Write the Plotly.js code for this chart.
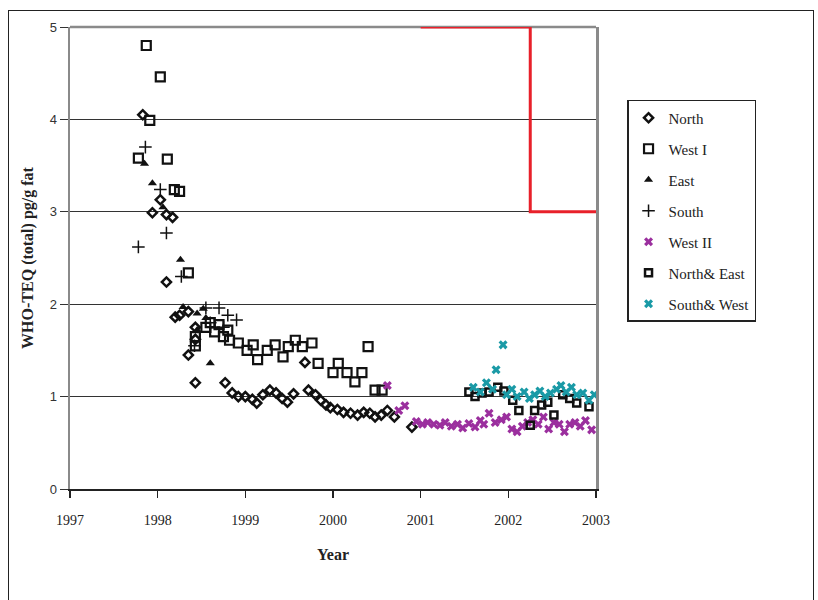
<!DOCTYPE html>
<html><head><meta charset="utf-8">
<script src="https://cdn.plot.ly/plotly-3.0.1.min.js"></script>
<style>
body{margin:0;background:#fff;}
#wrap{position:relative;width:818px;height:600px;}
#chart{width:818px;height:600px;}
#frame{position:absolute;left:8px;top:10px;width:804px;height:600px;border:1px solid #222;pointer-events:none;}
</style></head>
<body><div id="wrap"><div id="chart"></div><div id="frame"></div></div>
<script>
// Data
const northX = [1997.83,1998.03,1997.94,1998.10,1998.17,1998.10,1998.20,1998.25,1998.35,1998.35,1998.43,1998.77,1998.85,1998.92,1999.00,1999.08,1999.13,1999.20,1999.28,1999.35,1999.42,1999.48,1999.55,1999.68,1999.72,1999.80,1999.86,1999.92,1999.97,2000.05,2000.12,2000.20,2000.28,2000.35,2000.42,2000.48,2000.55,2000.62,2000.70,2000.90,1998.43,1998.43];
const northY = [4.05,3.13,2.99,2.97,2.94,2.24,1.86,1.88,1.92,1.45,1.15,1.15,1.04,1.00,1.00,0.97,0.93,1.02,1.07,1.04,0.98,0.94,1.03,1.37,1.07,1.02,0.96,0.91,0.88,0.86,0.83,0.82,0.80,0.83,0.82,0.78,0.80,0.85,0.78,0.67,1.62,1.75];

const westIX = [1997.87,1998.03,1997.91,1997.78,1998.11,1998.19,1998.25,1998.35,1998.43,1998.43,1998.55,1998.60,1998.65,1998.70,1998.75,1998.80,1998.82,1998.92,1999.02,1999.09,1999.14,1999.25,1999.34,1999.43,1999.49,1999.57,1999.65,1999.76,1999.83,2000.00,2000.06,2000.16,2000.25,2000.33,2000.40,2000.48,2000.56];
const westIY = [4.80,4.46,3.99,3.58,3.57,3.24,3.22,2.34,1.55,1.65,1.75,1.80,1.70,1.78,1.65,1.72,1.61,1.58,1.50,1.56,1.40,1.50,1.56,1.43,1.54,1.61,1.54,1.58,1.36,1.26,1.36,1.26,1.16,1.26,1.54,1.07,1.07];

const eastX = [1997.94,1997.85,1998.06,1998.26,1998.29,1998.45,1998.52,1998.60,1998.45,1998.55];
const eastY = [3.31,3.52,3.05,2.48,1.97,1.90,1.95,1.36,1.72,1.85];

const southX = [1997.78,1997.86,1998.03,1998.10,1998.27,1998.42,1998.55,1998.70,1998.80,1998.90,1998.60,1998.75];
const southY = [2.62,3.70,3.24,2.77,2.30,1.55,1.96,1.96,1.88,1.83,1.80,1.75];

const westIIX = [2000.62,2000.75,2000.82,2000.95,2001.02,2001.08,2001.15,2001.22,2001.28,2001.35,2001.42,2001.48,2001.55,2001.62,2001.68,2001.72,2001.78,2001.85,2001.92,2001.98,2002.04,2002.10,2002.16,2002.22,2002.28,2002.34,2002.40,2002.46,2002.52,2002.58,2002.64,2002.70,2002.76,2002.82,2002.88,2002.95];
const westIIY = [1.12,0.85,0.90,0.73,0.70,0.72,0.70,0.69,0.72,0.68,0.70,0.66,0.71,0.67,0.74,0.70,0.82,0.72,0.75,0.78,0.65,0.62,0.68,0.72,0.75,0.70,0.78,0.65,0.72,0.70,0.62,0.70,0.72,0.68,0.74,0.64];

const northEastX = [2001.55,2001.62,2001.70,2001.78,2001.88,2001.95,2002.05,2002.12,2002.25,2002.30,2002.38,2002.45,2002.52,2002.62,2002.70,2002.78,2002.92];
const northEastY = [1.05,1.00,1.04,1.05,1.10,1.06,0.96,0.85,0.69,0.85,0.91,0.94,0.80,1.02,0.98,0.93,0.89];

const southWestX = [2001.60,2001.68,2001.75,2001.82,2001.86,2001.94,2001.98,2002.04,2002.10,2002.18,2002.24,2002.30,2002.36,2002.42,2002.48,2002.55,2002.60,2002.66,2002.72,2002.78,2002.85,2002.92,2002.98];
const southWestY = [1.10,1.05,1.15,1.08,1.29,1.56,1.02,1.08,1.00,1.05,0.98,1.02,1.06,1.00,1.04,1.08,1.12,1.05,1.10,1.02,1.04,0.96,1.02];

const limitX = [2001, 2002.25, 2002.25, 2003];
const limitY = [5, 5, 3, 3];

const xTicks = [1997,1998,1999,2000,2001,2002,2003];
const xTickText = ['1997','1998','1999','2000','2001','2002','2003'];
const yTicks = [0,1,2,3,4,5];

const serif = 'Liberation Serif, Times New Roman, serif';

function sc(name, x, y, marker, g){
  return {type:'scatter', mode:'markers', name:name, x:x, y:y, marker:marker, legendgroup:g, cliponaxis:false};
}
const traces = [
  {type:'scatter', mode:'lines', x:limitX, y:limitY, line:{color:'#e8202a', width:3}, showlegend:false, hoverinfo:'skip', cliponaxis:false, legendgroup:'g0'},
  sc('North', northX, northY, {symbol:'diamond-open', size:7, color:'#111', line:{width:2.5, color:'#111'}}, 'g1'),
  sc('West I', westIX, westIY, {symbol:'square-open', size:9, color:'#111', line:{width:2.2, color:'#111'}}, 'g2'),
  sc('East', eastX, eastY, {symbol:'triangle-up', size:8, color:'#111'}, 'g3'),
  sc('South', southX, southY, {symbol:'cross-thin-open', size:9, color:'#111', line:{width:1.5, color:'#111'}}, 'g4'),
  sc('West II', westIIX, westIIY, {symbol:'x', size:8, color:'#9b2f9e'}, 'g5'),
  sc('North& East', northEastX, northEastY, {symbol:'square-open', size:7, color:'#111', line:{width:2.5, color:'#111'}}, 'g6'),
  sc('South& West', southWestX, southWestY, {symbol:'x', size:8, color:'#1a9aa6'}, 'g7')
];

const layout = {
  width:818, height:600,
  margin:{l:70, r:222, t:27, b:111},
  paper_bgcolor:'#fff', plot_bgcolor:'#fff',
  showlegend:true,
  legend:{x:1.059, xanchor:'left', y:0.842, yanchor:'top', bordercolor:'#222', borderwidth:1.5,
          font:{family:serif, size:15, color:'#222'}, tracegroupgap:8.5, traceorder:'grouped', itemwidth:30},
  xaxis:{range:[1997,2003], tickvals:xTicks, ticktext:xTickText, showgrid:false, zeroline:false,
         showline:true, linecolor:'#222', linewidth:2, ticks:'outside', ticklen:7, tickcolor:'#222', tickwidth:1.5,
         ticklabelstandoff:10,
         tickfont:{family:serif, size:14, color:'#222'},
         title:{text:'<b>Year</b>', font:{family:serif, size:16, color:'#222'}, standoff:22}},
  yaxis:{range:[0,5], tickvals:yTicks, showgrid:true, gridcolor:'#333', gridwidth:1, zeroline:false,
         showline:true, linecolor:'#8a8a8a', linewidth:2.5, mirror:true, ticks:'outside', ticklen:8, tickcolor:'#333',
         tickfont:{family:'Liberation Sans, Arial, sans-serif', size:13, color:'#333'},
         title:{text:'<b>WHO-TEQ (total) pg/g fat</b>', font:{family:serif, size:16, color:'#222'}, standoff:12}},
  shapes:[{type:'line', xref:'paper', yref:'paper', x0:0, x1:1, y0:1, y1:1, line:{color:'#8a8a8a', width:2.5}, layer:'between'}]
};
Plotly.newPlot('chart', traces, layout, {displayModeBar:false, staticPlot:true});
</script></body></html>
